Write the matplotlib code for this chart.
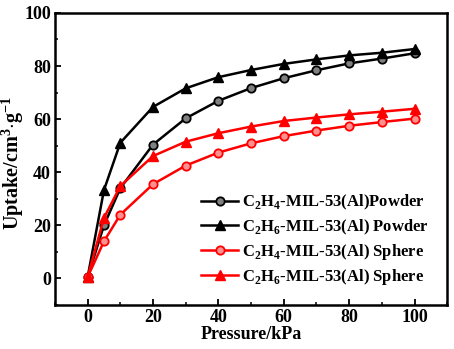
import matplotlib
matplotlib.use("Agg")
import matplotlib.pyplot as plt
from matplotlib.ticker import MultipleLocator

plt.rcParams['font.family'] = ['Liberation Serif', 'DejaVu Serif']
plt.rcParams['font.weight'] = 'bold'
plt.rcParams['mathtext.fontset'] = 'custom'
plt.rcParams['mathtext.rm'] = 'Liberation Serif:bold'
plt.rcParams['mathtext.bf'] = 'Liberation Serif:bold'

pressure = [0, 5, 10, 20, 30, 40, 50, 60, 70, 80, 90, 100]
c2h4_powder = [0.5, 20, 34, 50.4, 60.3, 66.9, 71.7, 75.4, 78.4, 81.0, 82.8, 84.8]
c2h6_powder = [0.5, 33.3, 51.1, 64.6, 71.6, 75.8, 78.5, 80.8, 82.5, 84.0, 85.0, 86.4]
c2h4_sphere = [0.5, 14.0, 24.0, 35.5, 42.5, 47.4, 50.9, 53.6, 55.7, 57.5, 58.9, 60.2]
c2h6_sphere = [0.5, 22.8, 34.8, 46.1, 51.5, 54.7, 57.2, 59.3, 60.6, 61.8, 62.8, 63.9]
labels = [r'C$_2$H$_4$-MIL-53(Al)Powder', r'C$_2$H$_6$-MIL-53(Al) Powder',
          r'C$_2$H$_4$-MIL-53(Al) Sphere', r'C$_2$H$_6$-MIL-53(Al) Sphere']

fig = plt.figure(figsize=(4.54, 3.49), dpi=100)
ax = fig.add_axes([0.121, 0.126, 0.864, 0.837])

ax.plot(pressure, c2h4_powder, '-o', color='black', lw=1.8, ms=6,
        mfc='#808080', mec='black', mew=1.3, label=labels[0])
ax.plot(pressure, c2h6_powder, '-^', color='black', lw=1.8, ms=7,
        mfc='black', mec='black', label=labels[1])
ax.plot(pressure, c2h4_sphere, '-o', color='#ff0000', lw=1.8, ms=6,
        mfc='#ff9090', mec='#ff0000', mew=1.3, label=labels[2])
ax.plot(pressure, c2h6_sphere, '-^', color='#ff0000', lw=1.8, ms=7,
        mfc='#ff0000', mec='#ff0000', label=labels[3])

ax.set_xlim(-10, 110)
ax.set_ylim(-10, 100)
ax.xaxis.set_major_locator(MultipleLocator(20))
ax.xaxis.set_minor_locator(MultipleLocator(10))
ax.yaxis.set_major_locator(MultipleLocator(20))
ax.yaxis.set_minor_locator(MultipleLocator(10))
ax.tick_params(which='both', direction='in', top=False, right=False, labelsize=13)
ax.tick_params(which='major', length=4, width=1.3, pad=3)
ax.tick_params(which='minor', length=2.5, width=1.1)
for s in ax.spines.values():
    s.set_linewidth(1.8)
for lab in ax.get_xticklabels() + ax.get_yticklabels():
    lab.set_fontweight('bold')

ax.set_xlabel('Pressure/kPa', fontsize=13, fontweight='bold', labelpad=0)
ax.set_ylabel(r'Uptake/cm$^3$$\cdot$g$^{-1}$', fontsize=14.5, fontweight='bold')
ax.yaxis.set_label_coords(-0.074, 0.485)

ax.legend(loc='lower right', frameon=False, handlelength=2.2,
          handletextpad=0.25, labelspacing=0.3, borderaxespad=0.7,
          prop={'weight': 'bold', 'size': 12})

fig.savefig('out.png', dpi=100)
